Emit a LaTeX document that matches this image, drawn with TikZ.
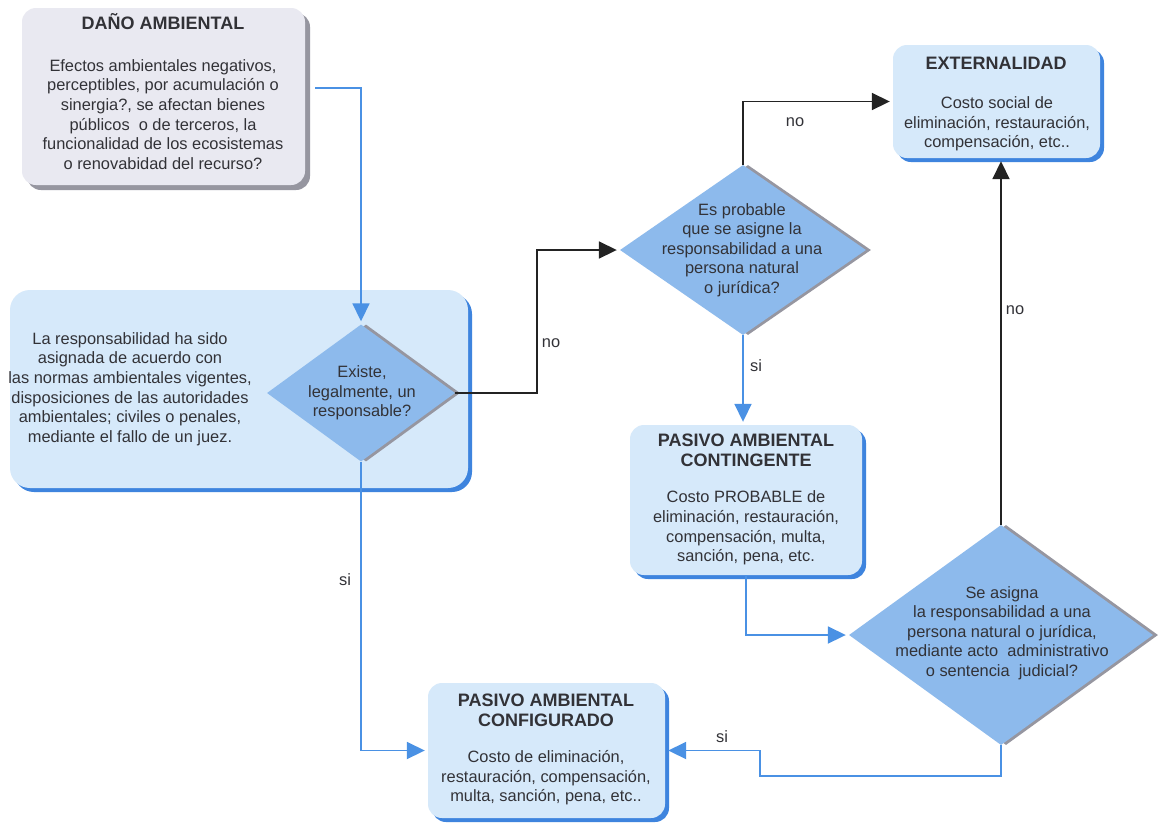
\documentclass[tikz,border=0pt]{standalone}
\usepackage{fontspec}
\setmainfont{Liberation Sans}
\usetikzlibrary{shapes.geometric,shadows,arrows.meta,calc}
\definecolor{boxfill}{RGB}{214,233,250}
\definecolor{diafill}{RGB}{141,186,236}
\definecolor{bline}{RGB}{74,145,228}
\definecolor{bshadow}{RGB}{62,132,222}
\definecolor{gfill}{RGB}{233,233,241}
\definecolor{gshadow}{RGB}{150,150,160}
\definecolor{txt}{RGB}{50,50,55}
\definecolor{kline}{RGB}{35,35,35}
\tikzset{
  x=1pt,y=-1pt,
  bluebox/.style={rectangle, rounded corners=14, fill=boxfill, inner sep=0,
    general shadow={fill=bshadow, shadow xshift=4pt, shadow yshift=-4pt}},
  graybox/.style={rectangle, rounded corners=14, fill=gfill, inner sep=0,
    general shadow={fill=gshadow, shadow xshift=5pt, shadow yshift=-5pt}},
  dia/.style={diamond, fill=diafill, inner sep=0,
    general shadow={fill=gshadow, shadow xshift=5pt, shadow yshift=0pt}},
  title/.style={font=\fontsize{18}{20}\selectfont\bfseries, text=txt, align=center, inner sep=0},
  body/.style={font=\fontsize{16.4}{19.6}\selectfont, text=txt, align=center, inner sep=0},
  bl/.style={draw=bline, line width=1.8, shorten >=3, -{Triangle[length=18,width=17]}},
  kl/.style={draw=kline, line width=1.8, shorten >=3, -{Triangle[length=18,width=17]}},
  lab/.style={font=\fontsize{16.4}{19.6}\selectfont, text=txt, inner sep=0},
}
\begin{document}
\begin{tikzpicture}
\useasboundingbox (0,0) rectangle (1162,823);
\fill[white] (0,0) rectangle (1162,823);
% boxes
\node[graybox, minimum width=283, minimum height=177] (dano) at (163.5,96.5) {};
\node[title] (danot) at (163,22) {DAÑO AMBIENTAL};
\node[body] (danob) at (163,114.5) {Efectos ambientales negativos,\\perceptibles, por acumulación o\\sinergia?, se afectan bienes\\públicos\ \ o de terceros, la\\funcionalidad de los ecosistemas\\o renovabidad del recurso?};

\node[bluebox, rounded corners=20, minimum width=458, minimum height=198] (big) at (239,389) {};
\node[body] (bigb) at (130,389) {La responsabilidad ha sido\\asignada de acuerdo con\\las normas ambientales vigentes,\\disposiciones de las autoridades\\ambientales; civiles o penales,\\mediante el fallo de un juez.};

\node[bluebox, minimum width=207, minimum height=113] (ext) at (996.5,101.5) {};
\node[title] (extt) at (996,63) {EXTERNALIDAD};
\node[body] (extb) at (997,124) {Costo social de\\eliminación, restauración,\\compensación, etc..};

\node[bluebox, minimum width=232, minimum height=150] (pac) at (746,500) {};
\node[title] (pact) at (746,450) {PASIVO AMBIENTAL\\CONTINGENTE};
\node[body] (pacb) at (746,528) {Costo PROBABLE de\\eliminación, restauración,\\compensación, multa,\\sanción, pena, etc.};

\node[bluebox, minimum width=237, minimum height=135] (pacf) at (546.5,750.5) {};
\node[title] (pacft) at (546,710) {PASIVO AMBIENTAL\\CONFIGURADO};
\node[body] (pacfb) at (546,778) {Costo de eliminación,\\restauración, compensación,\\multa, sanción, pena, etc..};

% diamonds
\node[dia, minimum width=188, minimum height=137] (d1) at (361,393) {};
\node[body] (d1t) at (362,393) {Existe,\\legalmente, un\\responsable?};
\node[dia, minimum width=246, minimum height=170] (d2) at (743,250) {};
\node[body] (d2t) at (742,250) {Es probable\\que se asigne la\\responsabilidad a una\\persona natural\\o jurídica?};
\node[dia, minimum width=304, minimum height=220] (d3) at (1001,635) {};
\node[body] (d3t) at (1002,633) {Se asigna\\la responsabilidad a una\\persona natural o jurídica,\\mediante acto\ \ administrativo\\o sentencia\ \ judicial?};

% connectors
\coordinate (c1) at (315,88);
\draw[bl] (c1) -| (d1.north);
\coordinate (c2) at (537,393);
\draw[kl] (d1.east) -- (c2) |- (d2.west);
\draw[kl] (d2.north) |- (ext.west);
\draw[bl] (d2.south) -- (d2.south |- pac.north);
\draw[bl] (pac.south) |- (d3.west);
\draw[kl] (d3.north) -- (d3.north |- ext.south);
\coordinate (c7) at (760,776);
\draw[bl] (d3.south) |- (c7) |- (pacf.east);
\draw[bl] (d1.south) |- (pacf.west);

% labels
\node[lab] (l1) at (551,343) {no};
\node[lab] (l2) at (795,122) {no};
\node[lab] (l3) at (756,366) {si};
\node[lab] (l4) at (1015,310) {no};
\node[lab] (l5) at (722,737) {si};
\node[lab] (l6) at (345,580) {si};
\end{tikzpicture}
\end{document}
